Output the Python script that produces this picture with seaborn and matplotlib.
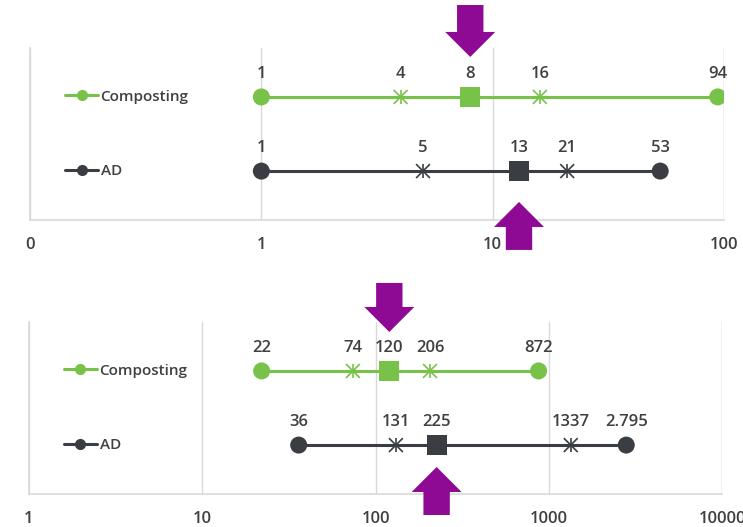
import numpy as np
import pandas as pd
import matplotlib.pyplot as plt
import seaborn as sns
from matplotlib.lines import Line2D

# values per technology: min, q1, median, q3, max
stats = ['min', 'q1', 'median', 'q3', 'max']
techs = ['Composting', 'AD']

top_compost = [1, 4, 8, 16, 94]
top_ad = [1, 5, 13, 21, 53]
top_compost_lbl = ['1', '4', '8', '16', '94']
top_ad_lbl = ['1', '5', '13', '21', '53']
top_ticks = [0.1, 1, 10, 100]
top_ticklabels = ['0', '1', '10', '100']

bot_compost = [22, 74, 120, 206, 872]
bot_ad = [36, 131, 225, 1337, 2795]
bot_compost_lbl = ['22', '74', '120', '206', '872']
bot_ad_lbl = ['36', '131', '225', '1337', '2.795']
bot_ticks = [1, 10, 100, 1000, 10000]
bot_ticklabels = ['1', '10', '100', '1000', '10000']

GREEN = '#78C24A'
DARK = '#3A3D42'
PURPLE = '#8E0A94'
GRID = '#D9D9D9'
TXT = '#404040'

sns.set_theme(style='white')
plt.rcParams['font.family'] = ['Open Sans', 'DejaVu Sans']

fig = plt.figure(figsize=(7.43, 5.27), dpi=100)
ax1 = fig.add_axes([0.0404, 0.5825, 0.934, 0.3264])
ax2 = fig.add_axes([0.039, 0.0626, 0.933, 0.3264])


def make_df(comp, ad, comp_lbl, ad_lbl):
    rows = []
    for tech, vals, lbls in [('Composting', comp, comp_lbl), ('AD', ad, ad_lbl)]:
        for s, v, l in zip(stats, vals, lbls):
            rows.append({'tech': tech, 'stat': s, 'value': v, 'label': l,
                         'row': techs.index(tech)})
    return pd.DataFrame(rows)


def draw(ax, df, ticks, ticklabels):
    pal = {'Composting': GREEN, 'AD': DARK}
    ax.set_xscale('log')
    sns.lineplot(data=df, x='value', y='row', hue='tech', palette=pal,
                 sort=True, estimator=None, units='tech', lw=2.2,
                 legend=False, ax=ax, zorder=2)
    ends = df[df['stat'].isin(['min', 'max'])]
    sns.scatterplot(data=ends, x='value', y='row', hue='tech', palette=pal,
                    marker='o', s=150, linewidth=0, legend=False, ax=ax, zorder=3)
    meds = df[df['stat'] == 'median']
    sns.scatterplot(data=meds, x='value', y='row', hue='tech', palette=pal,
                    marker='s', s=210, linewidth=0, legend=False, ax=ax, zorder=3)
    qs = df[df['stat'].isin(['q1', 'q3'])]
    for m in ['x', '|']:
        sns.scatterplot(data=qs, x='value', y='row', hue='tech', palette=pal,
                        marker=m, s=100, linewidth=1.2, legend=False, ax=ax, zorder=3)
    for _, r in df.iterrows():
        ax.annotate(r['label'], (r['value'], r['row']), xytext=(0, 11),
                    textcoords='offset points', ha='center', va='bottom',
                    fontsize=12, color=TXT, fontweight='semibold')

    ax.set_xlim(ticks[0], ticks[-1])
    ax.set_ylim(1.66, -0.66)
    ax.set_xticks(ticks)
    ax.set_xticklabels(ticklabels, fontsize=12, color=TXT, fontweight='semibold')
    ax.xaxis.set_minor_locator(plt.NullLocator())
    ax.set_yticks([])
    ax.set_xlabel('')
    ax.set_ylabel('')
    ax.tick_params(axis='x', length=0, pad=12)
    ax.grid(axis='x', color=GRID, lw=1)
    for side in ['top', 'right']:
        ax.spines[side].set_visible(False)
    for side in ['left', 'bottom']:
        ax.spines[side].set_color(GRID)
        ax.spines[side].set_linewidth(1.2)
    ax.axvline(ticks[-1], color=GRID, lw=1, zorder=0)

    handles = [Line2D([], [], color=pal[t], lw=2.2, marker='o', markersize=7)
               for t in techs]
    leg = ax.legend(handles, techs, loc='center left', bbox_to_anchor=(0.05, 0.5),
                    frameon=False, fontsize=11, labelspacing=3.95,
                    handlelength=2.2, handletextpad=0.15, borderpad=0, borderaxespad=0)
    for t in leg.get_texts():
        t.set_color(TXT)
        t.set_fontweight('semibold')


draw(ax1, make_df(top_compost, top_ad, top_compost_lbl, top_ad_lbl), top_ticks, top_ticklabels)
draw(ax2, make_df(bot_compost, bot_ad, bot_compost_lbl, bot_ad_lbl), bot_ticks, bot_ticklabels)

# purple arrows pointing at the medians
arrow_kw = dict(facecolor=PURPLE, edgecolor='none', width=19, headwidth=36, headlength=18)
for ax, comp, ad, down, up in [(ax1, top_compost, top_ad, (0.948, 1.25), (0.105, -0.174)),
                               (ax2, bot_compost, bot_ad, (0.942, 1.227), (0.157, -0.122))]:
    ax.annotate('', xy=(comp[2], down[0]), xycoords=('data', 'axes fraction'),
                xytext=(comp[2], down[1]), textcoords=('data', 'axes fraction'),
                arrowprops=arrow_kw, annotation_clip=False)
    ax.annotate('', xy=(ad[2], up[0]), xycoords=('data', 'axes fraction'),
                xytext=(ad[2], up[1]), textcoords=('data', 'axes fraction'),
                arrowprops=arrow_kw, annotation_clip=False)

fig.savefig('out.png', dpi=100)
